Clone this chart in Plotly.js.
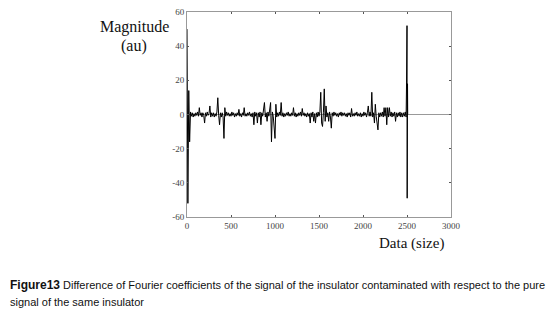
<!DOCTYPE html>
<html>
<head>
<meta charset="utf-8">
<script src="https://cdn.plot.ly/plotly-3.0.1.min.js"></script>
<style>
html,body{margin:0;padding:0;background:#fff;}
#chart{width:558px;height:316px;}
</style>
</head>
<body>
<div id="chart"></div>
<script>
// Difference signal sampled every 10 points (0 .. 2490)
const sampleStep = 10;
const diffValues = [
  50,-52,14,-16,1.5,-1,1,-1.5,0.5,-1,
  1,-0.5,1.5,-1,4,-0.5,1,-1.5,1,-0.5,
  -5,1,-1,1.5,-0.5,0.5,5,-1.5,1,-1,
  1,-1.5,0.5,-1,1.5,9.8,-0.5,-6,1,-1.5,
  1,-1.5,-14,4,-1,1.5,-0.5,1,-1,0.5,
  -1,1.5,-0.5,1,-1.5,0.5,-1,1,-0.5,3,
  -1,0.5,-1.5,1,-0.5,4,-1,0.5,-1,1,
  -0.5,1.5,-1,0.5,-1.5,1,-6,1.5,-1,1,
  -5,1,-1.5,1.5,-6,1,-1,4,7,-1.5,
  1,-4,1.5,-1,5,7,-16,1.5,-1,-6,
  -14,6,-1.5,1,-1,1.5,-0.5,7,-1,1,
  -1.5,0.5,-1,1,-0.5,1.5,-1,0.5,-1,1,
  -0.5,4,-1,1,-1.5,0.5,-1,1,-0.5,1.5,
  -1,3.5,-0.5,1,-1,0.5,-1.5,1,-1,0.5,
  -5,1,-1.5,1.5,-4,0.5,-5,1,-1.5,1.5,
  -1,1.5,13,-5,-7,1,15,-4,5,-1.5,
  1,-4,1.5,-1.5,-8,1,-1,1.5,-0.5,1,
  -1,0.5,-1.5,1,-0.5,1.5,-1,1,-0.5,1,
  -1,0.5,-1.5,1,-0.5,1,-1.5,3.5,-1,0.5,
  -1,1,-0.5,1.5,-1,0.5,-1,1,-1.5,0.5,
  -1,1.5,-0.5,1,-1.5,1,5,-1,1.5,-1,
  13,-1.5,1,-5,6,-1,-4,-9,1,-1.5,
  1,-1,1.5,-1.5,4,-1,4,-6,4,-1.5,
  4,-1,1.5,-1.5,1,-1,1.5,-4,1,-1.5,
  1,-1,1.5,-1.5,1,-1.5,1,-1,1.5,-1.5
];
// burst at the end of the record
const endX = [2495, 2500, 2502, 2504, 2506, 2508];
const endY = [19, 52, -49, -29, 18, 0];

const yTicks = [-60,-40,-20,0,20,40,60];
const xTicks = [0,500,1000,1500,2000,2500,3000];

const xs = diffValues.map((v,i)=>i*sampleStep).concat(endX);
const ys = diffValues.concat(endY);

const serif = 'Liberation Serif, Times New Roman, serif';
const narrow = 'Liberation Sans Narrow, Liberation Sans, Arial, sans-serif';

Plotly.newPlot('chart', [{
  x: xs, y: ys, type: 'scatter', mode: 'lines',
  line: {color: '#000', width: 1}, hoverinfo: 'skip'
}], {
  width: 558, height: 316,
  margin: {l: 187, r: 107, t: 12, b: 99},
  paper_bgcolor: '#fff', plot_bgcolor: '#fff',
  showlegend: false,
  xaxis: {
    range: [0, 3000], tickvals: xTicks, ticktext: xTicks.map(String),
    showgrid: false, zeroline: false, showline: true, mirror: 'ticks',
    linecolor: '#999', linewidth: 1, ticks: 'inside', ticklen: 2, tickcolor: '#555',
    tickfont: {family: serif, size: 9, color: '#444'}
  },
  yaxis: {
    range: [-60, 60], tickvals: yTicks, ticktext: yTicks.map(String),
    showgrid: false, zeroline: true, zerolinecolor: '#999', zerolinewidth: 1,
    showline: true, mirror: 'ticks',
    linecolor: '#999', linewidth: 1, ticks: 'inside', ticklen: 2, tickcolor: '#555',
    tickfont: {family: serif, size: 9, color: '#444'}
  },
  annotations: [
    {text: 'Magnitude', xref: 'paper', yref: 'paper', x: -0.2, y: 0.927, xanchor: 'center', yanchor: 'middle', showarrow: false, font: {family: serif, size: 16, color: '#111'}},
    {text: '(au)', xref: 'paper', yref: 'paper', x: -0.2, y: 0.834, xanchor: 'center', yanchor: 'middle', showarrow: false, font: {family: serif, size: 16, color: '#111'}},
    {text: 'Data (size)', xref: 'paper', yref: 'paper', x: 0.852, y: -0.13, xanchor: 'center', yanchor: 'middle', showarrow: false, font: {family: serif, size: 15, color: '#111'}},
    {text: '<b style="font-size:12px">Figure13</b> Difference of Fourier coefficients of the signal of the insulator contaminated with respect to the pure', xref: 'paper', yref: 'paper', x: -0.678, y: -0.33, xanchor: 'left', yanchor: 'middle', showarrow: false, align: 'left', font: {family: narrow, size: 11, color: '#111'}},
    {text: 'signal of the same insulator', xref: 'paper', yref: 'paper', x: -0.678, y: -0.415, xanchor: 'left', yanchor: 'middle', showarrow: false, align: 'left', font: {family: narrow, size: 11, color: '#111'}}
  ]
}, {staticPlot: true, displayModeBar: false});
</script>
</body>
</html>
